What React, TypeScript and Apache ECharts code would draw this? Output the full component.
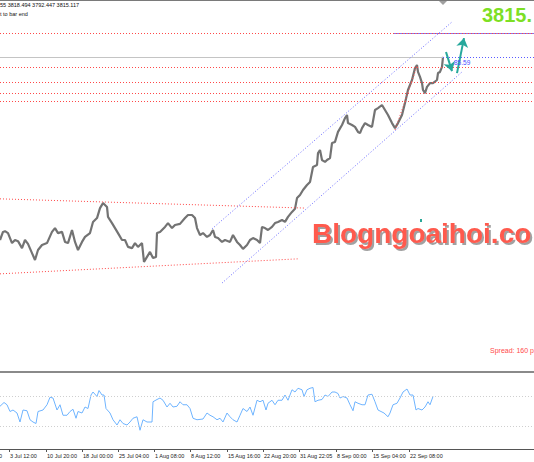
import React, { useEffect, useRef } from 'react';
import * as echarts from 'echarts';

// ---- data ----
// bar index (H4 bar, one per pixel column) and closing price of the gold chart
const priceBars = [0,3,5,8,12,15,18,22,25,28,32,35,38,42,47,52,55,58,62,65,68,72,75,78,82,85,90,93,97,100,103,107,108,112,115,118,122,125,128,132,135,138,142,144,147,150,153,156,157,160,165,168,172,175,180,185,188,192,195,197,200,203,207,210,213,215,218,222,225,230,233,237,240,243,247,250,253,257,260,262,265,268,272,275,278,282,285,288,292,295,297,300,303,307,310,313,317,318,320,322,325,327,330,332,335,338,342,345,347,348,352,355,358,360,362,365,368,372,375,378,382,385,388,392,395,398,402,405,408,412,415,417,418,420,422,423,425,427,430,433,437,438,440,442,443];
const priceClose = [3339,3360,3362,3357,3331,3339,3336,3318,3339,3329,3305,3287,3313,3326,3331,3360,3370,3357,3360,3334,3331,3365,3334,3313,3334,3347,3357,3386,3396,3422,3435,3425,3399,3383,3370,3357,3339,3339,3321,3318,3331,3321,3331,3282,3295,3308,3292,3295,3357,3360,3373,3383,3370,3378,3381,3396,3404,3404,3396,3370,3352,3357,3347,3352,3365,3347,3344,3334,3339,3334,3352,3334,3326,3316,3326,3339,3344,3339,3331,3373,3370,3365,3373,3383,3386,3391,3386,3399,3412,3420,3448,3456,3469,3482,3490,3529,3534,3565,3573,3547,3542,3547,3552,3591,3594,3620,3638,3656,3664,3643,3638,3633,3620,3617,3630,3643,3638,3633,3677,3682,3690,3677,3664,3643,3630,3643,3664,3695,3729,3755,3786,3794,3776,3763,3747,3729,3721,3737,3747,3747,3755,3773,3776,3789,3815];

const rsiBars = [0,4,7,10,13,17,20,23,27,30,33,36,38,43,47,50,53,57,60,63,67,70,73,76,78,82,85,88,91,93,97,99,102,104,106,110,113,117,120,123,127,130,133,137,140,143,147,152,153,157,160,163,167,170,173,177,180,183,187,190,193,197,203,207,210,213,217,220,223,227,230,233,237,240,243,247,250,253,257,260,263,266,268,272,275,278,282,285,288,292,295,298,302,304,307,310,313,315,318,322,325,328,332,335,338,340,343,347,350,353,355,358,362,365,368,372,375,378,381,384,388,390,393,397,400,403,407,410,413,416,418,422,425,428,430,433];
const rsiValues = [57,62,59,50,52,48,36,52,51,39,36,34,50,52,59,69,68,52,59,45,45,50,53,41,50,48,56,54,72,76,70,78,72,72,54,48,39,32,39,34,32,36,41,43,25,39,36,36,63,66,68,65,56,61,56,57,63,59,59,54,41,39,40,48,45,43,39,41,36,48,43,39,36,45,54,50,56,45,65,63,65,52,61,65,59,65,65,72,65,79,76,81,79,70,79,81,82,63,65,66,72,70,76,76,74,68,70,68,59,51,63,61,59,59,72,73,63,52,50,48,43,48,59,61,68,76,80,72,72,52,54,52,56,63,59,70];
const rsiLevels = [70, 30];

const tickBars = [9, 46, 82, 118, 154, 190, 227, 263, 299, 336, 372, 409];
const tickLabels = ['3 Jul 12:00', '10 Jul 20:00', '18 Jul 00:00', '25 Jul 04:00', '1 Aug 08:00', '8 Aug 12:00', '15 Aug 16:00', '22 Aug 20:00', '31 Aug 22:05', '8 Sep 00:00', '15 Sep 04:00', '22 Sep 08:00'];

const barCount = 535;
const bidPrice = 3815.117;
const bidEndBar = 443;
const redLevels = [3877, 3789, 3750, 3720, 3700];
const purpleLevel = { price: 3877, fromBar: 393 };
// trend lines: [fromBar, fromPrice, toBar, toPrice]
const redTrends = [
  [0, 3446, 305, 3422],
  [0, 3251, 298, 3290],
  [395, 3625, 417, 3791],
];
const blueTrends = [
  [212, 3368, 452, 3906],
  [222, 3227, 462, 3776],
];
const arrows = [
  [446, 3828, 452, 3778],
  [457, 3773, 464, 3864],
];
const headerText = '55 3818.494 3792.447 3815.117';
const subHeaderText = 't to bar end';
const bigPrice = '3815.';
const bidLabel = '85.59';
const watermark = 'Blogngoaihoi.co';
const spreadText = 'Spread: 160 p';

export default function App() {
  const ref = useRef<HTMLDivElement>(null);
  useEffect(() => {
    document.body.style.margin = '0';
    const chart = echarts.init(ref.current!, null, { renderer: 'svg' });
    const cats = Array.from({ length: barCount }, (_, i) => 'b' + i);
    const labelAt = new Map<number, string>(tickBars.map((b, i) => [b, tickLabels[i]]));
    const seg = (a: number[]) => [{ coord: [a[0], a[1]] }, { coord: [a[2], a[3]] }];
    const hseg = (p: number, from: number, to: number) => seg([from, p, to, p]);
    const priceData = priceBars.map((b, i) => [b, priceClose[i]]);
    const rsiData = rsiBars.map((b, i) => [b, rsiValues[i]]);

    // one empty helper series per line style, each holding its markLines
    const lineGroup = (data: any[], color: string, type: any, width = 1, symbol = ['none', 'none'], xi = 0, yi = 0, z = 2) => ({
      type: 'line', xAxisIndex: xi, yAxisIndex: yi, data: [], silent: true, z,
      markLine: {
        silent: true, symbol, symbolSize: 9, label: { show: false },
        lineStyle: { color, type, width, opacity: 1 },
        emphasis: { disabled: true },
        data,
      },
    });

    const option: any = {
      animation: false,
      grid: [
        { left: 0, right: 0, top: 0, height: 370 },
        { left: 0, right: 0, top: 374, height: 75 },
      ],
      xAxis: [
        { type: 'category', gridIndex: 0, data: cats, boundaryGap: false, show: false },
        {
          type: 'category', gridIndex: 1, data: cats, boundaryGap: false,
          axisLine: { show: true, lineStyle: { color: '#555', width: 1 } },
          axisTick: { show: true, length: 3, interval: (i: number) => labelAt.has(i), lineStyle: { color: '#555' } },
          axisLabel: {
            interval: (i: number) => labelAt.has(i),
            formatter: (_v: string, i: number) => labelAt.get(i) ?? '',
            align: 'left', fontSize: 5.5, color: '#222', margin: 4,
            fontFamily: 'Liberation Sans', padding: [0, 0, 0, 1],
          },
          splitLine: { show: false },
        },
      ],
      yAxis: [
        { type: 'value', gridIndex: 0, min: 3001, max: 3963, show: false },
        { type: 'value', gridIndex: 1, min: 0, max: 100, show: false },
      ],
      series: [
        lineGroup([hseg(bidPrice, 0, bidEndBar)], '#c4c4c4', 'solid'),
        lineGroup([hseg(purpleLevel.price, purpleLevel.fromBar, barCount - 1)], '#8a72e8', 'solid'),
        lineGroup([hseg(bidPrice, bidEndBar, barCount - 1)], '#5a5aff', [1, 2]),
        lineGroup(redLevels.map((p) => ({ yAxis: p })), '#ff4848', [1, 2]),
        lineGroup(redTrends.map(seg), '#ff4848', [1, 2]),
        lineGroup(blueTrends.map(seg), '#6a6aff', [1, 2]),
        {
          type: 'line', xAxisIndex: 0, yAxisIndex: 0, data: priceData,
          showSymbol: false, symbol: 'none', z: 3,
          lineStyle: { color: '#737373', width: 2.2 },
        },
        lineGroup(arrows.map(seg), '#27a89c', 'solid', 2, ['none', 'arrow'], 0, 0, 4),
        lineGroup(rsiLevels.map((v) => ({ yAxis: v })), '#cfcfcf', [1, 2], 1, ['none', 'none'], 1, 1),
        {
          type: 'line', xAxisIndex: 1, yAxisIndex: 1, data: rsiData,
          showSymbol: false, symbol: 'none', z: 3,
          lineStyle: { color: '#6fb4ff', width: 1 },
        },
      ],
      graphic: [
        { type: 'rect', shape: { x: 0, y: 0, width: 534, height: 1 }, style: { fill: '#7a7a7a' } },
        { type: 'polygon', shape: { points: [[439, 1], [447, 1], [443, 5]] }, style: { fill: '#a0a0a0' } },
        { type: 'text', x: 0, y: 5, style: { text: headerText, fontSize: 5.5, fontFamily: 'Liberation Sans', fill: '#111', verticalAlign: 'middle' } },
        { type: 'text', x: 0, y: 14, style: { text: subHeaderText, fontSize: 5.5, fontFamily: 'Liberation Sans', fill: '#111', verticalAlign: 'middle' } },
        { type: 'text', x: 482, y: 5, style: { text: bigPrice, fontSize: 20, fontWeight: 'bold', fontFamily: 'Liberation Sans', fill: '#7ddf24', verticalAlign: 'top' } },
        { type: 'text', x: 454, y: 62, z: 10, style: { text: bidLabel, fontSize: 6.5, fontFamily: 'Liberation Sans', fill: '#4a4aff', verticalAlign: 'middle' } },
        {
          type: 'text', x: 312, y: 247,
          style: {
            text: watermark, fontSize: 28, fontWeight: 'bold', fontFamily: 'Liberation Sans', fill: '#ff5a4e', verticalAlign: 'bottom',
            textShadowColor: 'rgba(120,120,120,0.7)', textShadowOffsetX: 2, textShadowOffsetY: 2, textShadowBlur: 1,
          },
        },
        { type: 'rect', shape: { x: 420, y: 219, width: 2, height: 3 }, style: { fill: '#2aa898' } },
        { type: 'text', x: 490, y: 350, style: { text: spreadText, fontSize: 7, fontFamily: 'Liberation Sans', fill: '#ff4a4a', verticalAlign: 'middle' } },
        { type: 'rect', shape: { x: 0, y: 371, width: 534, height: 2 }, style: { fill: '#8a8a8a' } },
        { type: 'text', x: -1, y: 456, style: { text: '0', fontSize: 5.5, fontFamily: 'Liberation Sans', fill: '#222', verticalAlign: 'middle' } },
      ],
    };
    chart.setOption(option);
    return () => chart.dispose();
  }, []);
  return <div ref={ref} style={{ width: 534, height: 462, position: 'absolute', left: 0, top: 0, background: '#fff' }} />;
}
